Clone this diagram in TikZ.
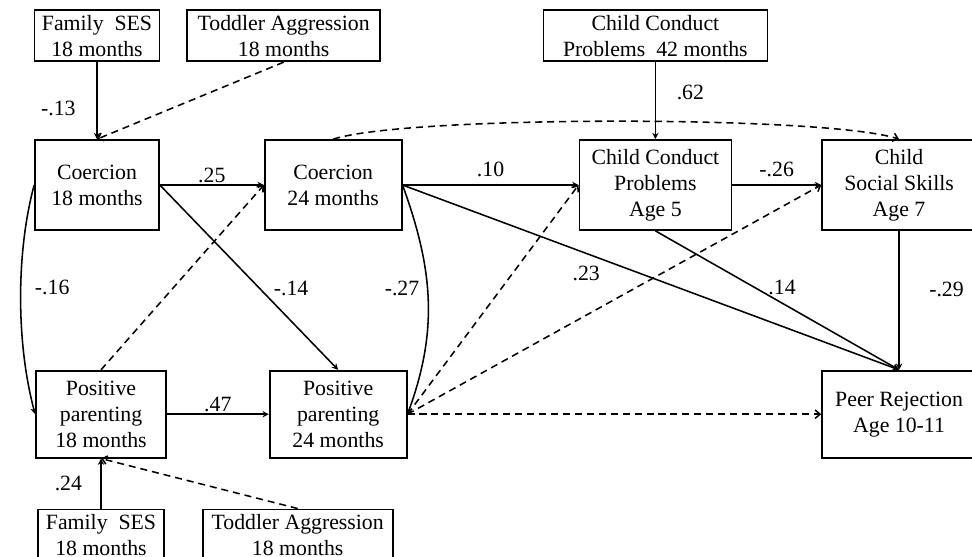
\documentclass[tikz,border=0pt]{standalone}
\usepackage{fontspec}
\setmainfont{Liberation Serif}
\usetikzlibrary{arrows.meta,positioning}

\begin{document}
\begin{tikzpicture}[
  box/.style={draw, line width=1.2pt, align=center, inner sep=2pt,
    font=\fontsize{15.5pt}{18.5pt}\selectfont},
  tall/.style={box, minimum height=22.5mm},
  flat/.style={box, minimum height=12.75mm},
  effect/.style={-{Stealth[length=4.5pt,width=4.5pt]}, line width=1.1pt},
  weak/.style={-{Straight Barb[length=3.5pt,width=6pt]}, line width=1.1pt,
    dash pattern=on 5pt off 3.5pt},
  coef/.style={font=\fontsize{15.5pt}{18.5pt}\selectfont, inner sep=1pt}
]
  \useasboundingbox (0,0) rectangle (243mm,-139mm);
  % Nodes
  \node[tall, minimum width=31mm] (coer18) at (24.25mm,-46.25mm)
    {Coercion\\18 months};
  \node[tall, minimum width=34.25mm, right=26mm of coer18] (coer24)
    {Coercion\\24 months};
  \node[tall, minimum width=38mm, right=44mm of coer24] (ccp5)
    {Child Conduct\\Problems\\Age 5};
  \node[tall, minimum width=38.5mm, right=22.25mm of ccp5] (css7)
    {Child\\Social Skills\\Age 7};
  \node[flat, minimum width=31.25mm, above=19.25mm of coer18] (famSES1)
    {Family\ \ SES\\18 months};
  \node[flat, minimum width=48.25mm, right=6.5mm of famSES1] (todAgg1)
    {Toddler Aggression\\18 months};
  \node[flat, minimum width=56mm, above=19.25mm of ccp5] (ccp42)
    {Child Conduct\\Problems\ \ 42 months};
  \node[tall, minimum width=32.5mm, minimum height=21.75mm,
    below=34.75mm of coer18, xshift=1mm] (pos18)
    {Positive\\parenting\\18 months};
  \node[tall, minimum width=34.25mm, minimum height=21.75mm,
    right=25.5mm of pos18] (pos24)
    {Positive\\parenting\\24 months};
  \node[tall, minimum width=38.5mm, minimum height=21.75mm,
    below=34.75mm of css7] (peer)
    {Peer Rejection\\Age 10-11};
  \node[flat, minimum width=31.5mm, below=12.5mm of pos18] (famSES2)
    {Family\ \ SES\\18 months};
  \node[flat, minimum width=47.5mm, right=9.25mm of famSES2] (todAgg2)
    {Toddler Aggression\\18 months};
  % Arrows
  \draw[effect] (famSES1.south) -- (coer18.north)
    node[coef, pos=0.6, left=4.8mm] {-.13};
  \draw[weak] (todAgg1.south) -- (coer18.north);
  \draw[effect] (coer18.east) -- (coer24.west)
    node[coef, midway, above] {.25};
  \draw[effect] (coer18.east) -- (pos24.north)
    node[coef, pos=0.56, right=3mm] {-.14};
  \draw[effect] (coer18.west) to[out=255, in=105, looseness=0.8]
    node[coef, pos=0.45, right=3mm] {-.16} (pos18.west);
  \draw[weak] (pos18.north) -- (coer24.west);
  \draw[effect] (pos18.east) -- (pos24.west)
    node[coef, midway, above] {.47};
  \draw[effect] (coer24.east) to[out=-70, in=70]
    node[coef, pos=0.45, left=1.5mm] {-.27} (pos24.east);
  \draw[effect] (coer24.east) -- (ccp5.west)
    node[coef, midway, above=1.5mm] {.10};
  \draw[effect] (coer24.east) -- (peer.north)
    node[coef, pos=0.37, below=2.7mm] {.23};
  \draw[weak] (coer24.north) to[out=18, in=162, looseness=0.35] (css7.north);
  \draw[effect] (ccp42.south) -- (ccp5.north)
    node[coef, pos=0.39, right=4.8mm] {.62};
  \draw[effect] (ccp5.east) -- (css7.west)
    node[coef, midway, above=1.5mm] {-.26};
  \draw[effect] (ccp5.south) -- (peer.north)
    node[coef, pos=0.52, above=1.5mm] {.14};
  \draw[effect] (css7.south) -- (peer.north)
    node[coef, pos=0.42, right=7mm] {-.29};
  \draw[weak] (pos24.east) -- (ccp5.west);
  \draw[weak] (pos24.east) -- (css7.west);
  \draw[weak] (pos24.east) -- (peer.west);
  \draw[effect] (famSES2.north) -- (pos18.south)
    node[coef, pos=0.5, left=4.2mm] {.24};
  \draw[weak] (todAgg2.north) -- (pos18.south);
\end{tikzpicture}
\end{document}
